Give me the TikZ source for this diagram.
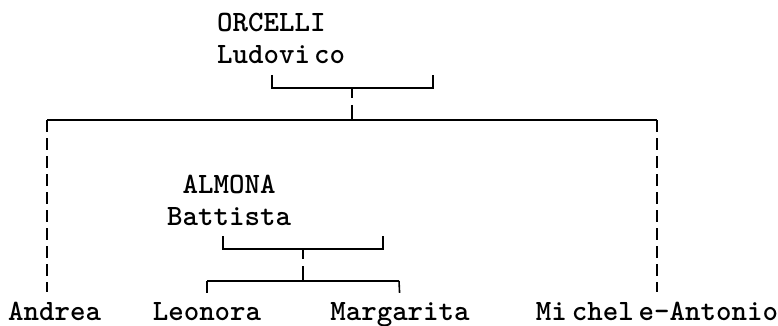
\documentclass[tikz,border=0pt]{standalone}
\usepackage{fontspec}
\begin{document}
\begin{tikzpicture}[x=1pt,y=-1pt,
  person/.style={font=\ttfamily\bfseries\fontsize{29.5}{31.5}\selectfont, inner sep=0pt},
  bar/.style={line width=1.6pt},
  kin/.style={line width=1.6pt, dash pattern=on 12pt off 6pt},
  tick/.style={line width=1.6pt, dash pattern=on 10pt off 7pt on 40pt off 1pt}]
\useasboundingbox (0,0) rectangle (778,326);
\node[person, anchor=north west, align=left] at (217,13) (orcelli){ORCELLI\\Ludovi\hspace{4pt}co};
\node[person, anchor=north west, align=center] at (167,175) (almona){ALMONA\\Battista};
\node[person, anchor=base west] at (8,320) (andrea){Andrea};
\node[person, anchor=base] at (207,320) (leonora){Leonora};
\node[person, anchor=base] at (400,320) (margarita){Margarita};
\node[person, anchor=base] at (657,320) (michele){Mi\hspace{5pt}chel\hspace{5pt}e—Antonio};
\coordinate (o-l) at (272,75); \coordinate (o-r) at (433,75); \coordinate (o-m) at (352,88);
\coordinate (kids-l) at (47,120); \coordinate (kids-r) at (657,120); \coordinate (kids-m) at (352,120);
\coordinate (a-l) at (223,236); \coordinate (a-r) at (383,236); \coordinate (a-m) at (303,249);
\coordinate (sibs-l) at (207,281); \coordinate (sibs-r) at (399,281); \coordinate (sibs-m) at (303,281);
\draw[bar] (o-l) |- (o-m) -| (o-r); % orcelli bracket
\draw[tick] (o-m) -- (kids-m);
\draw[bar] (kids-l) -- (kids-r); % children bar
\draw[kin, shorten >=9pt] (kids-l) -- (kids-l |- andrea.north);
\draw[kin, shorten >=9pt] (kids-r) -- (michele.north);
\draw[bar] (a-l) |- (a-m) -| (a-r); % almona bracket
\draw[tick] (a-m) -- (sibs-m);
\draw[bar] (sibs-l) -- (sibs-r); % daughters bar
\draw[bar, shorten >=9pt] (sibs-l) -- (leonora.north);
\draw[bar, shorten >=9pt] (sibs-r) -- (margarita.north);
\end{tikzpicture}
\end{document}
